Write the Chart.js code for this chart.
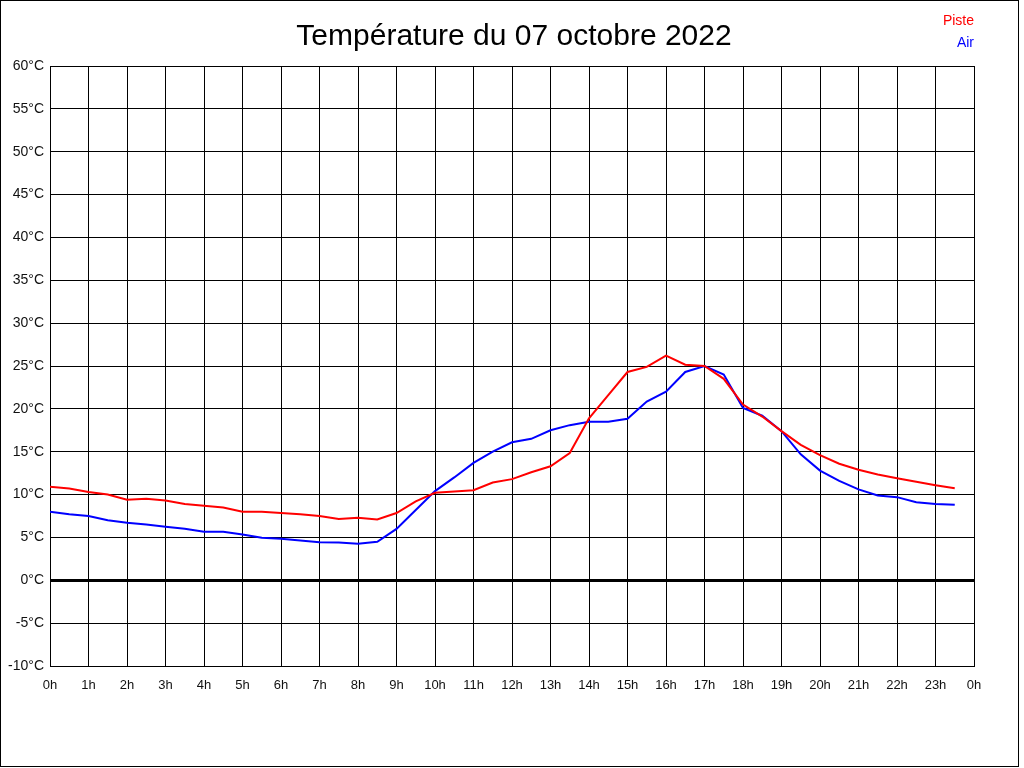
<!DOCTYPE html>
<html>
<head>
<meta charset="utf-8">
<title>Température du 07 octobre 2022</title>
<script src="https://cdn.jsdelivr.net/npm/chart.js@4"></script>
<style>
    html, body { margin: 0; padding: 0; background: #fff; }
    canvas { display: block; }
</style>
</head>
<body>
<canvas id="temp-chart" width="1024" height="768"></canvas>
<script>
const title = "Température du 07 octobre 2022"

// heure de la mesure (toutes les 30 min)
const hours = [
    0, 0.5, 1, 1.5, 2, 2.5, 3, 3.5, 4, 4.5, 5, 5.5,
    6, 6.5, 7, 7.5, 8, 8.5, 9, 9.5, 10, 10.5, 11, 11.5,
    12, 12.5, 13, 13.5, 14, 14.5, 15, 15.5, 16, 16.5, 17, 17.5,
    18, 18.5, 19, 19.5, 20, 20.5, 21, 21.5, 22, 22.5, 23, 23.5,
]

const piste = [
    10.9, 10.7, 10.3, 10.0, 9.4, 9.5, 9.3, 8.9, 8.7, 8.5, 8.0, 8.0,
    7.85, 7.7, 7.5, 7.15, 7.3, 7.1, 7.85, 9.2, 10.2, 10.35, 10.5, 11.4,
    11.8, 12.6, 13.3, 14.85, 18.9, 21.6, 24.3, 24.9, 26.2, 25.15, 25.0, 23.5,
    20.5, 19.1, 17.4, 15.8, 14.6, 13.6, 12.9, 12.35, 11.9, 11.5, 11.1, 10.75,
]

const air = [
    8.0, 7.7, 7.5, 7.0, 6.7, 6.5, 6.25, 6.0, 5.65, 5.65, 5.35, 4.95,
    4.85, 4.65, 4.45, 4.4, 4.25, 4.5, 6.0, 8.2, 10.4, 12.0, 13.7, 15.0,
    16.1, 16.5, 17.5, 18.1, 18.5, 18.5, 18.85, 20.85, 22.0, 24.3, 25.0, 24.0,
    20.1, 19.2, 17.4, 14.7, 12.8, 11.6, 10.6, 9.9, 9.7, 9.1, 8.9, 8.8,
]

const font = "'Liberation Sans', Arial, sans-serif"

function toPoints(values) {
    const pts = []
    for (let i = 0; i < hours.length; i++) {
        pts.push({ x: hours[i], y: values[i] })
    }
    return pts
}

// titre, légende texte et cadre
const decor = {
    id: "decor",
    beforeDraw(chart) {
        const c = chart.ctx
        c.save()
        c.fillStyle = "#fff"
        c.fillRect(0, 0, chart.width, chart.height)
        c.restore()
    },
    afterDraw(chart) {
        const c = chart.ctx
        c.save()
        c.fillStyle = "#000"
        c.font = "30px " + font
        c.textAlign = "center"
        c.textBaseline = "middle"
        c.fillText(title, 514, 37)

        c.font = "14px " + font
        c.textAlign = "right"
        const sets = chart.data.datasets
        for (let i = 0; i < sets.length; i++) {
            c.fillStyle = sets[i].borderColor
            c.fillText(sets[i].label, 974, 21 + i * 22)
        }

        c.strokeStyle = "#000"
        c.lineWidth = 1
        c.strokeRect(0.5, 0.5, 1018, 766)
        c.restore()
    },
}

const canvas = document.getElementById("temp-chart")
const myChart = new Chart(canvas, {
    type: "line",
    data: {
        datasets: [
            {
                label: "Piste",
                data: toPoints(piste),
                borderColor: "#ff0000",
                backgroundColor: "#ff0000",
                borderWidth: 2,
                radius: 0,
                tension: 0,
            },
            {
                label: "Air",
                data: toPoints(air),
                borderColor: "#0000ff",
                backgroundColor: "#0000ff",
                borderWidth: 2,
                radius: 0,
                tension: 0,
            },
        ],
    },
    options: {
        responsive: false,
        animation: false,
        devicePixelRatio: 1,
        layout: {
            padding: { top: 66, right: 50, left: 0, bottom: 0 },
        },
        plugins: {
            legend: { display: false },
            title: { display: false },
            tooltip: { enabled: false },
        },
        scales: {
            x: {
                type: "linear",
                min: 0,
                max: 24,
                afterFit(scale) {
                    scale.height = 102
                },
                ticks: {
                    stepSize: 1,
                    autoSkip: false,
                    maxRotation: 0,
                    padding: 12,
                    color: "#111",
                    font: { family: font, size: 13 },
                    callback: (v) => (v % 24) + "h",
                },
                grid: {
                    color: "#000",
                    lineWidth: 1,
                    drawTicks: false,
                },
                border: { color: "#000", width: 1 },
            },
            y: {
                min: -10,
                max: 60,
                afterFit(scale) {
                    scale.width = 50
                },
                ticks: {
                    stepSize: 5,
                    padding: 6,
                    color: "#111",
                    font: { family: font, size: 14 },
                    callback: (v) => v + "°C",
                },
                grid: {
                    color: "#000",
                    lineWidth: (ctx) => (ctx.tick && ctx.tick.value === 0 ? 3 : 1),
                    drawTicks: false,
                },
                border: { color: "#000", width: 1 },
            },
        },
    },
    plugins: [decor],
})
</script>
</body>
</html>
